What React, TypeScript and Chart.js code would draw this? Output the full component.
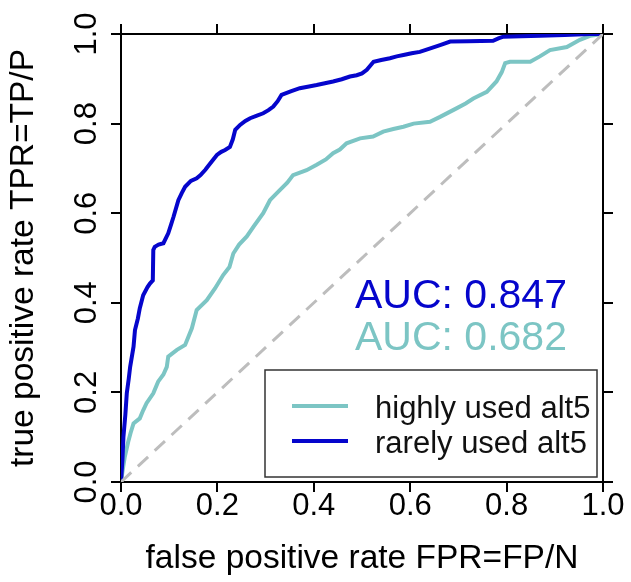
import React, { useEffect, useRef } from "react";
import { Chart, registerables } from "chart.js";

Chart.register(...registerables);

const FONT = '"Liberation Sans", Arial, Helvetica, sans-serif';
const BLUE = "#0505cc";
const TEAL = "#7cc5c4";
const GRAY = "#bdbdbd";

const xTitle = "false positive rate FPR=FP/N";
const yTitle = "true positive rate TPR=TP/P";
const seriesLabels = ["highly used alt5", "rarely used alt5"];
const aucLabels = ["AUC: 0.682", "AUC: 0.847"];
const tickValues = [0, 0.2, 0.4, 0.6, 0.8, 1.0];

// rarely used alt5 (blue)
const rarelyFpr = [
  0, 0.003, 0.005, 0.009, 0.012, 0.016, 0.019, 0.026, 0.029, 0.035, 0.039, 0.046, 0.055, 0.06, 0.066,
  0.067, 0.07, 0.078, 0.088, 0.098, 0.104, 0.109, 0.119, 0.126, 0.133, 0.145, 0.157, 0.165, 0.175, 0.185,
  0.199, 0.208, 0.216, 0.226, 0.232, 0.237, 0.247, 0.258, 0.268, 0.282, 0.295, 0.306, 0.316, 0.325, 0.333,
  0.352, 0.371, 0.39, 0.406, 0.423, 0.44, 0.458, 0.475, 0.489, 0.5, 0.51, 0.524, 0.54, 0.558, 0.572, 0.586,
  0.603, 0.62, 0.634, 0.648, 0.662, 0.683, 0.72, 0.772, 0.783, 0.793, 0.83, 0.87, 0.92, 0.973, 1,
];
const rarelyTpr = [
  0, 0.05, 0.1, 0.15, 0.198, 0.23, 0.257, 0.302, 0.339, 0.365, 0.388, 0.417, 0.435, 0.443, 0.45, 0.518,
  0.525, 0.53, 0.533, 0.555, 0.575, 0.592, 0.629, 0.645, 0.659, 0.672, 0.678, 0.685, 0.697, 0.711, 0.73,
  0.737, 0.741, 0.748, 0.765, 0.786, 0.797, 0.806, 0.812, 0.818, 0.823, 0.83, 0.838, 0.85, 0.864, 0.872,
  0.879, 0.883, 0.886, 0.89, 0.894, 0.899, 0.905, 0.908, 0.912, 0.92, 0.938, 0.942, 0.946, 0.95, 0.953,
  0.957, 0.96, 0.965, 0.97, 0.975, 0.983, 0.984, 0.985, 0.99, 0.994, 0.995, 0.996, 0.998, 1, 1,
];

// highly used alt5 (teal)
const highlyFpr = [
  0, 0.004, 0.008, 0.015, 0.02, 0.026, 0.039, 0.046, 0.053, 0.067, 0.077, 0.088, 0.095, 0.098, 0.116,
  0.133, 0.147, 0.157, 0.178, 0.195, 0.212, 0.225, 0.233, 0.245, 0.261, 0.275, 0.295, 0.309, 0.33, 0.345,
  0.357, 0.385, 0.406, 0.425, 0.44, 0.454, 0.468, 0.496, 0.523, 0.544, 0.565, 0.586, 0.607, 0.641, 0.662,
  0.68, 0.696, 0.715, 0.731, 0.759, 0.779, 0.79, 0.797, 0.807, 0.849, 0.869, 0.89, 0.925, 0.952, 0.973, 1,
];
const highlyTpr = [
  0, 0.03, 0.057, 0.09, 0.11, 0.131, 0.142, 0.16, 0.176, 0.198, 0.224, 0.24, 0.257, 0.28, 0.295, 0.306,
  0.343, 0.384, 0.406, 0.432, 0.462, 0.48, 0.51, 0.53, 0.548, 0.57, 0.6, 0.629, 0.652, 0.668, 0.685, 0.696,
  0.708, 0.72, 0.734, 0.742, 0.756, 0.767, 0.771, 0.782, 0.788, 0.793, 0.8, 0.804, 0.815, 0.825, 0.834,
  0.845, 0.856, 0.871, 0.894, 0.915, 0.935, 0.938, 0.938, 0.95, 0.964, 0.971, 0.987, 0.996, 1,
];

const diagX = [0, 1];
const diagY = [0, 1];

const toPoints = (xs: number[], ys: number[]) => xs.map((x, i) => ({ x, y: ys[i] }));

const overlayPlugin = {
  id: "rocOverlay",
  afterDatasetsDraw(chart: any) {
    const { ctx, chartArea } = chart;
    const ds = chart.data.datasets;
    const highly = ds.find((d: any) => d.label === seriesLabels[0]);
    const rarely = ds.find((d: any) => d.label === seriesLabels[1]);
    ctx.save();
    // AUC texts
    ctx.font = `41px ${FONT}`;
    ctx.textAlign = "left";
    ctx.textBaseline = "alphabetic";
    const ax = chartArea.left + 234;
    ctx.fillStyle = rarely.borderColor;
    ctx.fillText(aucLabels[1], ax, chartArea.top + 274);
    ctx.fillStyle = highly.borderColor;
    ctx.fillText(aucLabels[0], ax, chartArea.top + 316);

    // legend box
    const bw = 332;
    const bh = 107;
    const bx = chartArea.right - 6 - bw;
    const by = chartArea.bottom - 5 - bh;
    ctx.fillStyle = "#ffffff";
    ctx.fillRect(bx, by, bw, bh);
    ctx.strokeStyle = "#333333";
    ctx.lineWidth = 1.5;
    ctx.strokeRect(bx, by, bw, bh);
    const items = [highly, rarely];
    ctx.font = `31px ${FONT}`;
    items.forEach((d: any, i: number) => {
      const ly = by + 36 + i * 35;
      ctx.strokeStyle = d.borderColor;
      ctx.lineWidth = 4;
      ctx.beginPath();
      ctx.moveTo(bx + 27, ly);
      ctx.lineTo(bx + 83, ly);
      ctx.stroke();
      ctx.fillStyle = "#111111";
      ctx.fillText(d.label, bx + 110, ly + 12);
    });
    ctx.restore();
  },
};

const axisGrid = {
  drawOnChartArea: false,
  drawTicks: true,
  tickLength: 10,
  color: "#000000",
  lineWidth: 2,
};
const axisBorder = { display: true, color: "#000000", width: 2 };

export default function App() {
  const ref = useRef<HTMLCanvasElement | null>(null);
  useEffect(() => {
    if (!ref.current) return;
    const tickCb = (v: any) => Number(v).toFixed(1);
    const chart = new Chart(ref.current, {
      type: "line",
      data: {
        datasets: [
          {
            label: "diagonal",
            data: toPoints(diagX, diagY),
            borderColor: GRAY,
            borderWidth: 3,
            borderDash: [14, 9],
            pointRadius: 0,
            order: 0,
          },
          {
            label: seriesLabels[1],
            data: toPoints(rarelyFpr, rarelyTpr),
            borderColor: BLUE,
            borderWidth: 4,
            pointRadius: 0,
            tension: 0,
            order: 1,
          },
          {
            label: seriesLabels[0],
            data: toPoints(highlyFpr, highlyTpr),
            borderColor: TEAL,
            borderWidth: 4,
            pointRadius: 0,
            tension: 0,
            order: 2,
          },
        ],
      },
      options: {
        responsive: false,
        animation: false,
        layout: { padding: 0 },
        plugins: { legend: { display: false }, tooltip: { enabled: false } },
        scales: {
          x: {
            type: "linear",
            position: "bottom",
            min: 0,
            max: 1,
            afterBuildTicks: (s: any) => {
              s.ticks = tickValues.map((v) => ({ value: v }));
            },
            afterFit: (s: any) => {
              s.height = 100;
            },
            grid: axisGrid,
            border: axisBorder,
            ticks: {
              callback: tickCb,
              color: "#000",
              padding: -1,
              maxRotation: 0,
              font: { family: FONT, size: 31, lineHeight: 1.0 },
            },
            title: {
              display: true,
              text: xTitle,
              color: "#000",
              font: { family: FONT, size: 33.5, lineHeight: 1.2 },
              padding: { top: 0, bottom: 3 },
            },
          },
          x2: {
            type: "linear",
            position: "top",
            min: 0,
            max: 1,
            afterBuildTicks: (s: any) => {
              s.ticks = tickValues.map((v) => ({ value: v }));
            },
            afterFit: (s: any) => {
              s.height = 34;
            },
            grid: axisGrid,
            border: axisBorder,
            ticks: { display: false },
          },
          y: {
            type: "linear",
            position: "left",
            min: 0,
            max: 1,
            afterBuildTicks: (s: any) => {
              s.ticks = tickValues.map((v) => ({ value: v }));
            },
            afterFit: (s: any) => {
              s.width = 121;
            },
            grid: axisGrid,
            border: axisBorder,
            ticks: {
              callback: tickCb,
              color: "#000",
              padding: 2,
              minRotation: 90,
              maxRotation: 90,
              crossAlign: "center",
              font: { family: FONT, size: 31, lineHeight: 1.0 },
            },
            title: {
              display: true,
              text: yTitle,
              color: "#000",
              font: { family: FONT, size: 33.5, lineHeight: 1.2 },
              padding: { top: 4, bottom: 0 },
            },
          },
          y2: {
            type: "linear",
            position: "right",
            min: 0,
            max: 1,
            afterBuildTicks: (s: any) => {
              s.ticks = tickValues.map((v) => ({ value: v }));
            },
            afterFit: (s: any) => {
              s.width = 28;
            },
            grid: axisGrid,
            border: axisBorder,
            ticks: { display: false },
          },
        },
      } as any,
      plugins: [overlayPlugin],
    });
    return () => chart.destroy();
  }, []);

  return (
    <div style={{ position: "absolute", left: 0, top: 0, width: 631, height: 582, background: "#fff" }}>
      <canvas ref={ref} width={631} height={582} style={{ display: "block" }} />
    </div>
  );
}
